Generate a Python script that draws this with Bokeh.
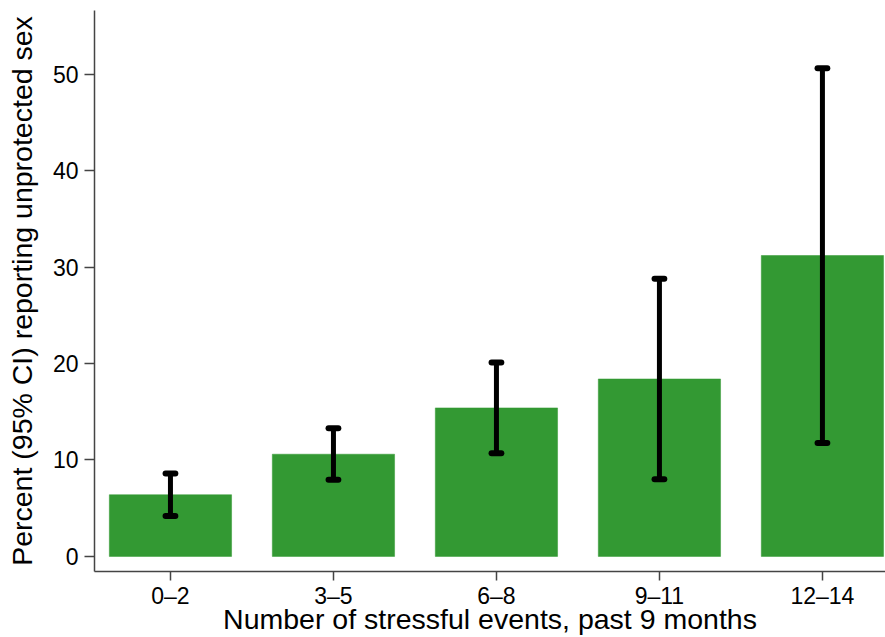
from bokeh.plotting import figure
from bokeh.models import Range1d, FixedTicker, ColumnDataSource
from bokeh.embed import file_html
from bokeh.resources import INLINE

categories = ["0\u20132", "3\u20135", "6\u20138", "9\u201311", "12\u201314"]
percent = [6.4, 10.6, 15.4, 18.4, 31.2]
ci_low = [4.2, 7.95, 10.7, 8.0, 11.75]
ci_high = [8.6, 13.3, 20.1, 28.8, 50.6]
y_ticks = [0, 10, 20, 30, 40, 50]
x_title = "Number of stressful events, past 9 months"
y_title = "Percent (95% CI) reporting unprotected sex"

xs = list(range(len(categories)))
cap = 0.03
src = ColumnDataSource(dict(
    x=xs, top=percent, lo=ci_low, hi=ci_high,
    xl=[x - cap for x in xs], xr=[x + cap for x in xs],
))

FONT = "Liberation Sans"
AXC = "#444444"

p = figure(width=885, height=637, output_backend="svg", toolbar_location=None,
           x_range=Range1d(-0.466, 4.387), y_range=Range1d(-1.56, 56.6),
           min_border_left=94, min_border_top=10, min_border_right=0, min_border_bottom=66)
p.outline_line_color = None
p.grid.visible = False
p.background_fill_color = "white"

p.vbar(x="x", top="top", bottom=0, width=0.75, source=src,
       fill_color="#339933", line_color="#339933", line_width=0.5)
p.segment(x0="x", y0="lo", x1="x", y1="hi", source=src,
          line_color="black", line_width=5)
p.segment(x0="xl", y0="lo", x1="xr", y1="lo", source=src,
          line_color="black", line_width=6, line_cap="round")
p.segment(x0="xl", y0="hi", x1="xr", y1="hi", source=src,
          line_color="black", line_width=6, line_cap="round")

p.xaxis.ticker = FixedTicker(ticks=xs)
p.xaxis.major_label_overrides = {i: c for i, c in zip(xs, categories)}
p.yaxis.ticker = FixedTicker(ticks=y_ticks)

for ax in (p.xaxis, p.yaxis):
    ax.axis_line_color = AXC
    ax.axis_line_width = 1.5
    ax.major_tick_line_color = AXC
    ax.major_tick_line_width = 1.5
    ax.major_tick_in = 0
    ax.minor_tick_line_color = None
    ax.major_label_text_font = FONT
    ax.major_label_text_font_size = "23px"
    ax.major_label_text_color = "black"
    ax.major_label_text_line_height = 1.0
    ax.axis_label_text_font = FONT
    ax.axis_label_text_font_size = "28.5px"
    ax.axis_label_text_font_style = "normal"
    ax.axis_label_text_color = "black"
    ax.axis_label_text_line_height = 1.0

p.xaxis.axis_label = x_title
p.yaxis.axis_label = y_title
p.xaxis.major_tick_out = 9
p.yaxis.major_tick_out = 10
p.xaxis.major_label_standoff = 2
p.xaxis.axis_label_standoff = -9
p.yaxis.major_label_standoff = 6
p.yaxis.axis_label_standoff = 12
p.yaxis.major_label_orientation = "horizontal"

open("out.html", "w").write(file_html(p, INLINE))
